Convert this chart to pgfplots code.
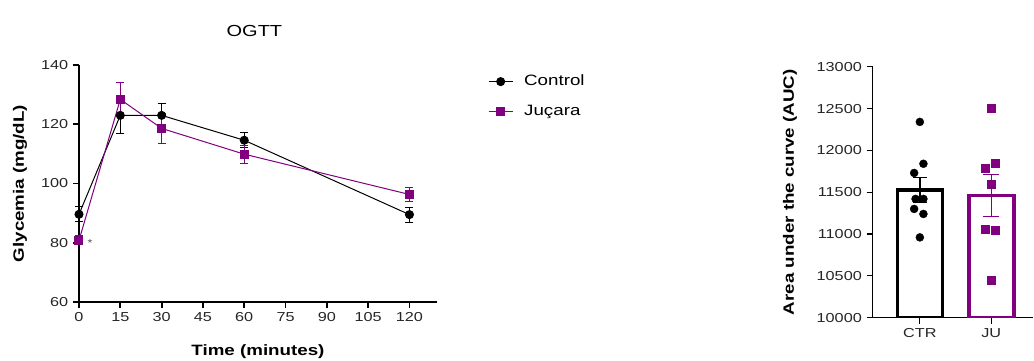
\documentclass[border=0pt]{standalone}
\usepackage{pgfplots}
\pgfplotsset{compat=1.18}
\usepackage{fontspec}
\setmainfont{Liberation Sans}[FakeStretch=1.25]
\definecolor{jpurple}{RGB}{128,0,128}
\begin{document}
\fontsize{14}{16}\selectfont
\begin{tikzpicture}
\useasboundingbox (0pt,0pt) rectangle (1034pt,360pt);
\begin{axis}[
  at={(79pt,58pt)}, anchor=south west, scale only axis,
  width=358pt, height=237pt,
  xmin=0, xmax=130, ymin=60, ymax=140,
  axis x line*=bottom, axis y line*=left,
  axis line style={line width=2pt,-},
  xtick={0,15,...,120}, ytick={60,80,...,140},
  tick align=outside, major tick length=6pt,
  tick style={line width=1.8pt,black},
  /pgf/number format/assume math mode=true,
  tick label style={font=\fontsize{13}{15}\selectfont, text=black!85},
  xlabel={Time (minutes)}, ylabel={Glycemia (mg/dL)},
  label style={font=\fontsize{15}{17}\selectfont\bfseries},
  x label style={at={(axis description cs:0.5,-0.211)}, anchor=center},
  y label style={at={(axis description cs:-0.165,0.5)}, anchor=center},
  title={OGTT}, title style={at={(axis description cs:0.49,1.12)}, anchor=center, font=\fontsize{16}{18}\selectfont},
  clip=false,
  legend style={at={(axis description cs:1.134,0.975)}, anchor=north west, draw=none, fill=none,
    font=\fontsize{15}{17}\selectfont, row sep=13pt, cells={anchor=west}},
  legend image code/.code={\draw[mark repeat=2,mark phase=2,#1] plot coordinates {(0pt,0pt) (12pt,0pt) (24pt,0pt)};\path (33pt,0pt);},
]
\addplot[black, line width=1pt, mark=*, mark size=4pt,
  error bars/.cd, y dir=both, y explicit,
  error bar style={line width=1pt, black},
  error mark options={rotate=90, mark size=4pt, line width=1pt, black}]
  coordinates {(0,89.6)+-(0,2.5) (15,123)+-(0,6) (30,123)+-(0,4) (60,114.6)+-(0,2.5) (120,89.5)+-(0,2.5)};
\addlegendentry{Control}
\addplot[jpurple, line width=1pt, mark=square*, mark size=4pt,
  error bars/.cd, y dir=both, y explicit,
  error bar style={line width=1pt, jpurple},
  error mark options={rotate=90, mark size=4pt, line width=1pt, jpurple}]
  coordinates {(0,80.8)+-(0,1.5) (15,128.4)+-(0,5.6) (30,118.6)+-(0,5) (60,109.9)+-(0,3) (120,96.3)+-(0,2.5)};
\addlegendentry{Juçara}
\node[font=\fontsize{10}{10}\selectfont, text=black!70] at (axis cs:0,80) [xshift=11pt] {*};
\end{axis}

\begin{axis}[
  at={(872.7pt,42.3pt)}, anchor=south west, scale only axis,
  width=160pt, height=251pt,
  xmin=-0.66, xmax=1.58, ymin=10000, ymax=13000,
  axis x line*=bottom, axis y line*=left,
  axis line style={line width=1.5pt,-},
  xtick={0,1}, xticklabels={CTR,JU},
  ytick={10000,10500,...,13000},
  scaled y ticks=false,
  yticklabel style={/pgf/number format/.cd, set thousands separator={}, fixed},
  tick align=outside, major tick length=6pt,
  tick style={line width=1.2pt,black},
  /pgf/number format/assume math mode=true,
  tick label style={font=\fontsize{13}{15}\selectfont, text=black!85},
  ylabel={Area under the curve (AUC)},
  label style={font=\fontsize{15}{17}\selectfont\bfseries},
  y label style={at={(axis description cs:-0.517,0.5)}, anchor=center},
]
\addplot[ybar, bar width=45pt, bar shift=0pt, draw=black, fill=white, line width=3.5pt,
  error bars/.cd, y dir=both, y explicit,
  error bar style={line width=1.5pt, black},
  error mark options={rotate=90, mark size=7pt, line width=1.5pt, black}]
  coordinates {(0,11525)+-(0,150)};
\addplot[ybar, bar width=45pt, bar shift=0pt, draw=jpurple, fill=white, line width=3.5pt,
  error bars/.cd, y dir=both, y explicit,
  error bar style={line width=1.5pt, jpurple},
  error mark options={rotate=90, mark size=8pt, line width=1.5pt, jpurple}]
  coordinates {(1,11460)+-(0,250)};
\addplot[only marks, mark=*, mark size=4pt, black]
  coordinates {(0,12340) (0.05,11840) (-0.08,11730) (-0.06,11420) (0.05,11420) (-0.08,11300) (0.05,11240) (0,10960)};
\addplot[only marks, mark=square*, mark size=4pt, jpurple]
  coordinates {(1,12500) (0.91,11790) (1.06,11850) (1,11590) (0.91,11060) (1.06,11050) (1,10450)};
\end{axis}
\end{tikzpicture}
\end{document}
